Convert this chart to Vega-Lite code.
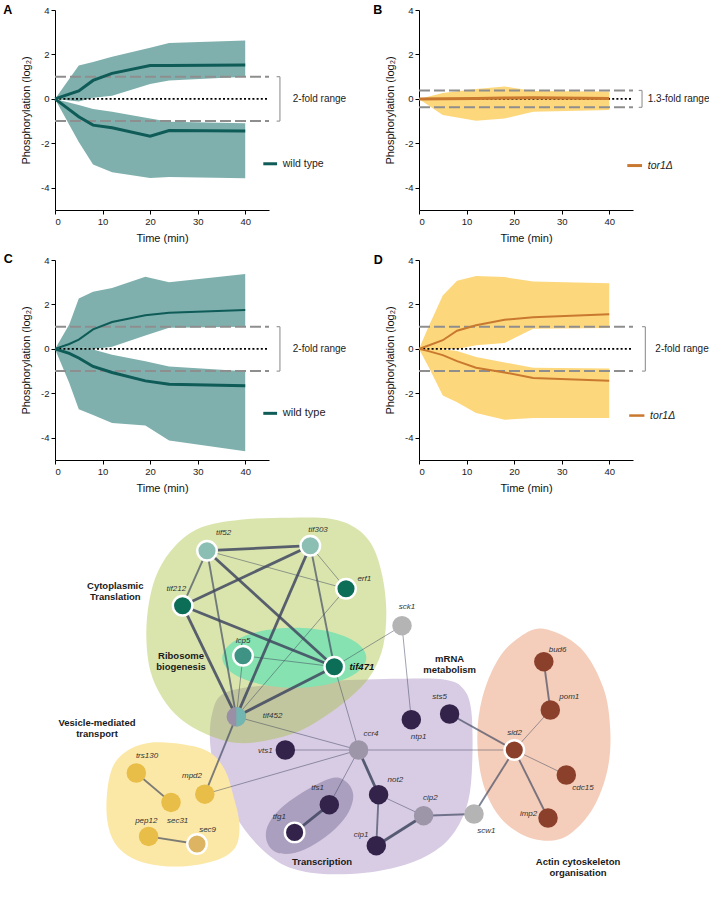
{
  "$schema": "https://vega.github.io/schema/vega-lite/v6.json",
  "autosize": {"type": "pad"},
  "padding": {"left": 3, "top": 3, "right": 0, "bottom": 0},
  "background": "white",
  "config": {
    "view": {"stroke": null},
    "font": "Liberation Sans",
    "axis": {"grid": false, "domainColor": "#000", "domainWidth": 1, "tickColor": "#000", "tickSize": 4, "labelFontSize": 9.5, "labelColor": "#222", "titleFontSize": 11, "titleFontWeight": "normal", "titleColor": "#111", "labelFont": "Liberation Sans", "titleFont": "Liberation Sans"}
  },
  "datasets": {
    "ts": [
      {"panel":"A","series":"up","t":0,"mean":0,"lo":0,"hi":0},
      {"panel":"A","series":"up","t":5,"mean":0.36,"lo":-0.12,"hi":1.5},
      {"panel":"A","series":"up","t":8,"mean":0.83,"lo":0.05,"hi":1.66},
      {"panel":"A","series":"up","t":12,"mean":1.15,"lo":0.14,"hi":1.9},
      {"panel":"A","series":"up","t":20,"mean":1.5,"lo":0.67,"hi":2.3},
      {"panel":"A","series":"up","t":24,"mean":1.5,"lo":0.83,"hi":2.51},
      {"panel":"A","series":"up","t":40,"mean":1.53,"lo":1.0,"hi":2.63},
      {"panel":"A","series":"down","t":0,"mean":0,"lo":0,"hi":0},
      {"panel":"A","series":"down","t":5,"mean":-0.8,"lo":-1.94,"hi":-0.27},
      {"panel":"A","series":"down","t":8,"mean":-1.18,"lo":-2.95,"hi":-0.45},
      {"panel":"A","series":"down","t":12,"mean":-1.3,"lo":-3.3,"hi":-0.58},
      {"panel":"A","series":"down","t":20,"mean":-1.68,"lo":-3.56,"hi":-0.88},
      {"panel":"A","series":"down","t":24,"mean":-1.42,"lo":-3.52,"hi":-1.03},
      {"panel":"A","series":"down","t":40,"mean":-1.44,"lo":-3.57,"hi":-1.1},
      {"panel":"B","series":"flat","t":0,"mean":0,"lo":0,"hi":0},
      {"panel":"B","series":"flat","t":5,"mean":0.01,"lo":-0.73,"hi":0.26},
      {"panel":"B","series":"flat","t":12,"mean":0.02,"lo":-0.98,"hi":0.45},
      {"panel":"B","series":"flat","t":18,"mean":0.04,"lo":-0.88,"hi":0.56},
      {"panel":"B","series":"flat","t":24,"mean":0.05,"lo":-0.58,"hi":0.36},
      {"panel":"B","series":"flat","t":40,"mean":0.02,"lo":-0.5,"hi":0.33},
      {"panel":"C","series":"up","t":0,"mean":0,"lo":0,"hi":0},
      {"panel":"C","series":"up","t":3,"mean":0.22,"lo":0.05,"hi":1.1},
      {"panel":"C","series":"up","t":5,"mean":0.42,"lo":0.1,"hi":2.27},
      {"panel":"C","series":"up","t":8,"mean":0.88,"lo":0.0,"hi":2.57},
      {"panel":"C","series":"up","t":12,"mean":1.21,"lo":0.1,"hi":2.74},
      {"panel":"C","series":"up","t":19,"mean":1.51,"lo":0.6,"hi":3.25},
      {"panel":"C","series":"up","t":24,"mean":1.63,"lo":0.95,"hi":3.0},
      {"panel":"C","series":"up","t":40,"mean":1.75,"lo":1.0,"hi":3.37},
      {"panel":"C","series":"down","t":0,"mean":0,"lo":0,"hi":0},
      {"panel":"C","series":"down","t":3,"mean":-0.2,"lo":-1.54,"hi":0.2},
      {"panel":"C","series":"down","t":5,"mean":-0.41,"lo":-2.72,"hi":0.12},
      {"panel":"C","series":"down","t":8,"mean":-0.79,"lo":-2.98,"hi":-0.03},
      {"panel":"C","series":"down","t":12,"mean":-1.06,"lo":-3.33,"hi":-0.26},
      {"panel":"C","series":"down","t":19,"mean":-1.44,"lo":-3.45,"hi":-0.56},
      {"panel":"C","series":"down","t":24,"mean":-1.59,"lo":-4.12,"hi":-0.79},
      {"panel":"C","series":"down","t":40,"mean":-1.66,"lo":-4.61,"hi":-1.01},
      {"panel":"D","series":"up","t":0,"mean":0,"lo":0,"hi":0},
      {"panel":"D","series":"up","t":2,"mean":0.15,"lo":-0.05,"hi":1.0},
      {"panel":"D","series":"up","t":5,"mean":0.39,"lo":0.0,"hi":2.4},
      {"panel":"D","series":"up","t":8,"mean":0.82,"lo":0.0,"hi":3.07},
      {"panel":"D","series":"up","t":12,"mean":1.06,"lo":0.16,"hi":3.28},
      {"panel":"D","series":"up","t":18,"mean":1.31,"lo":0.27,"hi":3.23},
      {"panel":"D","series":"up","t":24,"mean":1.42,"lo":0.91,"hi":3.03},
      {"panel":"D","series":"up","t":40,"mean":1.56,"lo":0.94,"hi":2.95},
      {"panel":"D","series":"down","t":0,"mean":0,"lo":0,"hi":0},
      {"panel":"D","series":"down","t":2,"mean":-0.1,"lo":-0.8,"hi":0.0},
      {"panel":"D","series":"down","t":5,"mean":-0.28,"lo":-2.1,"hi":-0.02},
      {"panel":"D","series":"down","t":8,"mean":-0.55,"lo":-2.4,"hi":-0.1},
      {"panel":"D","series":"down","t":12,"mean":-0.85,"lo":-2.89,"hi":-0.36},
      {"panel":"D","series":"down","t":18,"mean":-1.06,"lo":-3.19,"hi":-0.61},
      {"panel":"D","series":"down","t":24,"mean":-1.31,"lo":-3.11,"hi":-0.85},
      {"panel":"D","series":"down","t":40,"mean":-1.43,"lo":-3.11,"hi":-0.88}
    ],
    "nodes": [
      {"id":"tif52","x":206.7,"y":550,"grp":"tifL","ring":1,"lx":223.3,"ly":532.7},
      {"id":"tif303","x":310,"y":545,"grp":"tifL","ring":1,"lx":317.7,"ly":529.3},
      {"id":"erf1","x":345.7,"y":588,"grp":"tifD","ring":1,"lx":364,"ly":578.3},
      {"id":"tif212","x":182.3,"y":605,"grp":"tifD","ring":1,"lx":176,"ly":588.3},
      {"id":"lcp5","x":242.7,"y":655,"grp":"ribo","ring":1,"lx":242.7,"ly":640},
      {"id":"tif471","x":334,"y":666,"grp":"tifD","ring":1,"lx":361.5,"ly":666.7},
      {"id":"tif452","x":236,"y":716,"grp":"split","ring":0,"lx":272.3,"ly":715.7},
      {"id":"sck1","x":401.7,"y":625,"grp":"other","ring":0,"lx":406.7,"ly":606},
      {"id":"ccr4","x":358.3,"y":749.3,"grp":"mgrey","ring":0,"lx":370.7,"ly":733.3},
      {"id":"vts1","x":285,"y":749.3,"grp":"mrna","ring":0,"lx":265,"ly":750},
      {"id":"ntp1","x":411,"y":719,"grp":"mrna","ring":0,"lx":418.3,"ly":736.7},
      {"id":"sts5","x":449.3,"y":713.3,"grp":"mrna","ring":0,"lx":439.3,"ly":696.7},
      {"id":"not2","x":378.3,"y":794,"grp":"mrna","ring":0,"lx":395,"ly":779.3},
      {"id":"cip2","x":423.3,"y":815,"grp":"mgrey","ring":0,"lx":430,"ly":797.7},
      {"id":"cip1","x":376,"y":845,"grp":"mrna","ring":0,"lx":360.7,"ly":834},
      {"id":"scw1","x":473.7,"y":813.3,"grp":"other","ring":0,"lx":486,"ly":830.7},
      {"id":"tfs1","x":329,"y":804,"grp":"mrna","ring":0,"lx":317.3,"ly":787.7},
      {"id":"tfg1","x":294.3,"y":831.7,"grp":"mrna","ring":1,"lx":279,"ly":816.7},
      {"id":"trs130","x":136,"y":772.3,"grp":"ves","ring":0,"lx":146.7,"ly":755},
      {"id":"mpd2","x":204.5,"y":793.5,"grp":"ves","ring":0,"lx":191.7,"ly":775},
      {"id":"sec31","x":170.7,"y":801.7,"grp":"ves","ring":0,"lx":177.3,"ly":820},
      {"id":"pep12","x":148.3,"y":835.7,"grp":"ves","ring":0,"lx":146,"ly":820},
      {"id":"sec9","x":196.7,"y":843.3,"grp":"vesL","ring":1,"lx":207.3,"ly":829.3},
      {"id":"bud6","x":543.5,"y":661,"grp":"actin","ring":0,"lx":557.3,"ly":649.3},
      {"id":"pom1","x":550,"y":709.3,"grp":"actin","ring":0,"lx":569,"ly":696.7},
      {"id":"sid2","x":514,"y":749.3,"grp":"actin","ring":1,"lx":514.3,"ly":732.7},
      {"id":"cdc15","x":566,"y":774.3,"grp":"actin","ring":0,"lx":582.7,"ly":787.3},
      {"id":"imp2","x":547.7,"y":817.3,"grp":"actin","ring":0,"lx":528.3,"ly":813.3}
    ],
    "edges": [
      {"s":"tif52","t":"tif303","w":3},
      {"s":"tif52","t":"erf1","w":1},
      {"s":"tif52","t":"tif471","w":3},
      {"s":"tif52","t":"tif212","w":2},
      {"s":"tif52","t":"tif452","w":2},
      {"s":"tif303","t":"tif212","w":3},
      {"s":"tif303","t":"erf1","w":1},
      {"s":"tif303","t":"tif471","w":2},
      {"s":"tif303","t":"tif452","w":3},
      {"s":"tif212","t":"tif471","w":3},
      {"s":"tif212","t":"tif452","w":3},
      {"s":"erf1","t":"tif452","w":1},
      {"s":"lcp5","t":"tif471","w":1},
      {"s":"lcp5","t":"tif452","w":1},
      {"s":"tif471","t":"tif452","w":3},
      {"s":"tif471","t":"sck1","w":1},
      {"s":"tif471","t":"ccr4","w":1},
      {"s":"sck1","t":"ntp1","w":1},
      {"s":"tif452","t":"ccr4","w":1},
      {"s":"tif452","t":"mpd2","w":2},
      {"s":"mpd2","t":"ccr4","w":1},
      {"s":"vts1","t":"ccr4","w":1},
      {"s":"ccr4","t":"sid2","w":1},
      {"s":"ccr4","t":"not2","w":3},
      {"s":"ccr4","t":"tfs1","w":1},
      {"s":"tfs1","t":"tfg1","w":3},
      {"s":"not2","t":"cip2","w":1},
      {"s":"not2","t":"cip1","w":2},
      {"s":"cip1","t":"cip2","w":3},
      {"s":"cip2","t":"scw1","w":2},
      {"s":"scw1","t":"sid2","w":2},
      {"s":"sts5","t":"sid2","w":2},
      {"s":"sid2","t":"pom1","w":1},
      {"s":"sid2","t":"cdc15","w":1},
      {"s":"sid2","t":"imp2","w":2},
      {"s":"pom1","t":"bud6","w":2},
      {"s":"trs130","t":"sec31","w":2},
      {"s":"pep12","t":"sec9","w":2}
    ],
    "blobs": [
      {"b":"mrna","i":0,"x":225,"y":692},{"b":"mrna","i":1,"x":270,"y":684},{"b":"mrna","i":2,"x":330,"y":680},{"b":"mrna","i":3,"x":400,"y":678},{"b":"mrna","i":4,"x":445,"y":679},{"b":"mrna","i":5,"x":463,"y":688},{"b":"mrna","i":6,"x":471,"y":710},{"b":"mrna","i":7,"x":472,"y":760},{"b":"mrna","i":8,"x":468,"y":800},{"b":"mrna","i":9,"x":455,"y":830},{"b":"mrna","i":10,"x":435,"y":850},{"b":"mrna","i":11,"x":405,"y":864},{"b":"mrna","i":12,"x":365,"y":872},{"b":"mrna","i":13,"x":320,"y":873},{"b":"mrna","i":14,"x":285,"y":865},{"b":"mrna","i":15,"x":258,"y":845},{"b":"mrna","i":16,"x":235,"y":815},{"b":"mrna","i":17,"x":218,"y":780},{"b":"mrna","i":18,"x":210,"y":745},{"b":"mrna","i":19,"x":212,"y":712},
      {"b":"trans","i":0,"x":290,"y":517},{"b":"trans","i":1,"x":330,"y":518},{"b":"trans","i":2,"x":355,"y":527},{"b":"trans","i":3,"x":372,"y":545},{"b":"trans","i":4,"x":382,"y":575},{"b":"trans","i":5,"x":386,"y":610},{"b":"trans","i":6,"x":383,"y":645},{"b":"trans","i":7,"x":372,"y":672},{"b":"trans","i":8,"x":355,"y":692},{"b":"trans","i":9,"x":330,"y":712},{"b":"trans","i":10,"x":300,"y":730},{"b":"trans","i":11,"x":265,"y":740},{"b":"trans","i":12,"x":235,"y":742},{"b":"trans","i":13,"x":205,"y":733},{"b":"trans","i":14,"x":180,"y":718},{"b":"trans","i":15,"x":162,"y":697},{"b":"trans","i":16,"x":150,"y":670},{"b":"trans","i":17,"x":146,"y":635},{"b":"trans","i":18,"x":149,"y":600},{"b":"trans","i":19,"x":158,"y":570},{"b":"trans","i":20,"x":175,"y":545},{"b":"trans","i":21,"x":200,"y":527},{"b":"trans","i":22,"x":240,"y":519},
      {"b":"ribo","i":0,"x":366,"y":657},{"b":"ribo","i":1,"x":356.4,"y":672},{"b":"ribo","i":2,"x":330,"y":683},{"b":"ribo","i":3,"x":294,"y":687},{"b":"ribo","i":4,"x":258,"y":683},{"b":"ribo","i":5,"x":231.6,"y":672},{"b":"ribo","i":6,"x":222,"y":657},{"b":"ribo","i":7,"x":231.6,"y":642},{"b":"ribo","i":8,"x":258,"y":631},{"b":"ribo","i":9,"x":294,"y":627},{"b":"ribo","i":10,"x":330,"y":631},{"b":"ribo","i":11,"x":356.4,"y":642},
      {"b":"tx","i":0,"x":333,"y":777},{"b":"tx","i":1,"x":347,"y":782},{"b":"tx","i":2,"x":353,"y":795},{"b":"tx","i":3,"x":348,"y":812},{"b":"tx","i":4,"x":335,"y":828},{"b":"tx","i":5,"x":315,"y":843},{"b":"tx","i":6,"x":295,"y":852},{"b":"tx","i":7,"x":277,"y":852},{"b":"tx","i":8,"x":267,"y":842},{"b":"tx","i":9,"x":267,"y":826},{"b":"tx","i":10,"x":280,"y":808},{"b":"tx","i":11,"x":305,"y":790},
      {"b":"ves","i":0,"x":150,"y":742},{"b":"ves","i":1,"x":185,"y":744},{"b":"ves","i":2,"x":210,"y":752},{"b":"ves","i":3,"x":225,"y":770},{"b":"ves","i":4,"x":233,"y":795},{"b":"ves","i":5,"x":239,"y":822},{"b":"ves","i":6,"x":236,"y":845},{"b":"ves","i":7,"x":220,"y":858},{"b":"ves","i":8,"x":190,"y":865},{"b":"ves","i":9,"x":160,"y":865},{"b":"ves","i":10,"x":133,"y":858},{"b":"ves","i":11,"x":115,"y":843},{"b":"ves","i":12,"x":107,"y":820},{"b":"ves","i":13,"x":107,"y":790},{"b":"ves","i":14,"x":113,"y":765},{"b":"ves","i":15,"x":127,"y":750},
      {"b":"actin","i":0,"x":543,"y":628},{"b":"actin","i":1,"x":580,"y":647},{"b":"actin","i":2,"x":603,"y":687},{"b":"actin","i":3,"x":610,"y":730},{"b":"actin","i":4,"x":607,"y":770},{"b":"actin","i":5,"x":593,"y":807},{"b":"actin","i":6,"x":570,"y":833},{"b":"actin","i":7,"x":547,"y":840},{"b":"actin","i":8,"x":520,"y":833},{"b":"actin","i":9,"x":497,"y":813},{"b":"actin","i":10,"x":482,"y":780},{"b":"actin","i":11,"x":477,"y":737},{"b":"actin","i":12,"x":482,"y":697},{"b":"actin","i":13,"x":497,"y":660},{"b":"actin","i":14,"x":517,"y":638}
    ],
    "glabels": [
      {"label":"Cytoplasmic\nTranslation","x":115,"y":585.3},
      {"label":"Ribosome\nbiogenesis","x":180.7,"y":655.7},
      {"label":"mRNA\nmetabolism","x":449.3,"y":658.7},
      {"label":"Vesicle-mediated\ntransport","x":96.7,"y":722},
      {"label":"Transcription","x":321.7,"y":861},
      {"label":"Actin cytoskeleton\norganisation","x":577.7,"y":861.3}
    ]
  },
  "concat": [
    {
      "width": 214, "height": 200,
      "layer": [
        {"data": {"name": "ts"}, "transform": [{"filter": "datum.panel === 'A'"}],
         "mark": {"type": "area", "color": "#7FB0AD", "opacity": 1},
         "encoding": {
           "x": {"field": "t", "type": "quantitative", "scale": {"domain": [0, 45], "nice": false}, "axis": {"values": [0,10,20,30,40], "title": "Time (min)", "titlePadding": 7, "labelPadding": 2}},
           "y": {"field": "lo", "type": "quantitative", "scale": {"domain": [-5, 4], "nice": false}, "axis": {"values": [-4,-2,0,2,4], "title": "Phosphorylation (log₂)", "titlePadding": 9, "labelPadding": 2, "labelExpr": "'' + datum.value"}},
           "y2": {"field": "hi"}, "detail": {"field": "series"}}},
        {"data": {"values": [{"f": 1}, {"f": -1}]}, "mark": {"type": "rule", "color": "#8E8E8E", "strokeWidth": 2, "strokeDash": [11, 4]},
         "encoding": {"x": {"datum": 0}, "x2": {"datum": 45}, "y": {"field": "f", "type": "quantitative"}}},
        {"data": {"values": [{"f": 0}]}, "mark": {"type": "rule", "color": "#000", "strokeWidth": 1.6, "strokeDash": [2, 2.2]},
         "encoding": {"x": {"datum": 0}, "x2": {"datum": 45}, "y": {"field": "f", "type": "quantitative"}}},
        {"data": {"name": "ts"}, "transform": [{"filter": "datum.panel === 'A'"}],
         "mark": {"type": "line", "color": "#0E5B57", "strokeWidth": 3},
         "encoding": {"x": {"field": "t", "type": "quantitative"}, "y": {"field": "mean", "type": "quantitative"}, "detail": {"field": "series"}}},
        {"data": {"values": [{"a": 1, "b": -1}]}, "mark": {"type": "rule", "color": "#9A9A9A", "strokeWidth": 1.2},
         "encoding": {"x": {"datum": 47.3}, "y": {"field": "a", "type": "quantitative"}, "y2": {"field": "b"}}},
        {"data": {"values": [{"f": 1}, {"f": -1}]}, "mark": {"type": "rule", "color": "#9A9A9A", "strokeWidth": 1.2},
         "encoding": {"x": {"datum": 46.6}, "x2": {"datum": 47.3}, "y": {"field": "f", "type": "quantitative"}}},
        {"data": {"values": [{"label": "2-fold range"}]}, "mark": {"type": "text", "align": "left", "baseline": "middle", "fontSize": 10, "color": "#222"},
         "encoding": {"x": {"datum": 50}, "y": {"datum": 0}, "text": {"field": "label"}}},
        {"data": {"values": [{}]}, "mark": {"type": "rule", "color": "#0E5B57", "strokeWidth": 3},
         "encoding": {"x": {"datum": 43.8}, "x2": {"datum": 46.7}, "y": {"datum": -2.92}}},
        {"data": {"values": [{"label": "wild type"}]}, "mark": {"type": "text", "align": "left", "baseline": "middle", "fontSize": 10.5, "color": "#222"},
         "encoding": {"x": {"datum": 47.9}, "y": {"datum": -2.92}, "text": {"field": "label"}}},
        {"data": {"values": [{"label": "A"}]}, "mark": {"type": "text", "align": "left", "baseline": "middle", "fontSize": 12.5, "fontWeight": "bold", "color": "#000"},
         "encoding": {"x": {"datum": -10.9}, "y": {"datum": 4.02}, "text": {"field": "label"}}}
      ]
    },
    {
      "width": 214, "height": 200,
      "layer": [
        {"data": {"name": "ts"}, "transform": [{"filter": "datum.panel === 'B'"}],
         "mark": {"type": "area", "color": "#FDD77C", "opacity": 1},
         "encoding": {
           "x": {"field": "t", "type": "quantitative", "scale": {"domain": [0, 45], "nice": false}, "axis": {"values": [0,10,20,30,40], "title": "Time (min)", "titlePadding": 7, "labelPadding": 2}},
           "y": {"field": "lo", "type": "quantitative", "scale": {"domain": [-5, 4], "nice": false}, "axis": {"values": [-4,-2,0,2,4], "title": "Phosphorylation (log₂)", "titlePadding": 9, "labelPadding": 2, "labelExpr": "'' + datum.value"}},
           "y2": {"field": "hi"}, "detail": {"field": "series"}}},
        {"data": {"values": [{"f": 0.38}, {"f": -0.38}]}, "mark": {"type": "rule", "color": "#8E8E8E", "strokeWidth": 2, "strokeDash": [11, 4]},
         "encoding": {"x": {"datum": 0}, "x2": {"datum": 45}, "y": {"field": "f", "type": "quantitative"}}},
        {"data": {"values": [{"f": 0}]}, "mark": {"type": "rule", "color": "#000", "strokeWidth": 1.6, "strokeDash": [2, 2.2]},
         "encoding": {"x": {"datum": 0}, "x2": {"datum": 45}, "y": {"field": "f", "type": "quantitative"}}},
        {"data": {"name": "ts"}, "transform": [{"filter": "datum.panel === 'B'"}],
         "mark": {"type": "line", "color": "#C9792F", "strokeWidth": 3},
         "encoding": {"x": {"field": "t", "type": "quantitative"}, "y": {"field": "mean", "type": "quantitative"}, "detail": {"field": "series"}}},
        {"data": {"values": [{"a": 0.38, "b": -0.38}]}, "mark": {"type": "rule", "color": "#9A9A9A", "strokeWidth": 1.2},
         "encoding": {"x": {"datum": 46.9}, "y": {"field": "a", "type": "quantitative"}, "y2": {"field": "b"}}},
        {"data": {"values": [{"f": 0.38}, {"f": -0.38}]}, "mark": {"type": "rule", "color": "#9A9A9A", "strokeWidth": 1.2},
         "encoding": {"x": {"datum": 46.2}, "x2": {"datum": 46.9}, "y": {"field": "f", "type": "quantitative"}}},
        {"data": {"values": [{"label": "1.3-fold range"}]}, "mark": {"type": "text", "align": "left", "baseline": "middle", "fontSize": 10, "color": "#222"},
         "encoding": {"x": {"datum": 48.1}, "y": {"datum": 0}, "text": {"field": "label"}}},
        {"data": {"values": [{}]}, "mark": {"type": "rule", "color": "#C9792F", "strokeWidth": 3},
         "encoding": {"x": {"datum": 43.8}, "x2": {"datum": 46.9}, "y": {"datum": -3.0}}},
        {"data": {"values": [{"label": "tor1Δ"}]}, "mark": {"type": "text", "align": "left", "baseline": "middle", "fontSize": 10.5, "fontStyle": "italic", "color": "#222"},
         "encoding": {"x": {"datum": 48.1}, "y": {"datum": -3.0}, "text": {"field": "label"}}},
        {"data": {"values": [{"label": "B"}]}, "mark": {"type": "text", "align": "left", "baseline": "middle", "fontSize": 12.5, "fontWeight": "bold", "color": "#000"},
         "encoding": {"x": {"datum": -9.6}, "y": {"datum": 4.02}, "text": {"field": "label"}}}
      ]
    },
    {
      "width": 214, "height": 200,
      "layer": [
        {"data": {"name": "ts"}, "transform": [{"filter": "datum.panel === 'C'"}],
         "mark": {"type": "area", "color": "#7FB0AD", "opacity": 1},
         "encoding": {
           "x": {"field": "t", "type": "quantitative", "scale": {"domain": [0, 45], "nice": false}, "axis": {"values": [0,10,20,30,40], "title": "Time (min)", "titlePadding": 7, "labelPadding": 2}},
           "y": {"field": "lo", "type": "quantitative", "scale": {"domain": [-5, 4], "nice": false}, "axis": {"values": [-4,-2,0,2,4], "title": "Phosphorylation (log₂)", "titlePadding": 9, "labelPadding": 2, "labelExpr": "'' + datum.value"}},
           "y2": {"field": "hi"}, "detail": {"field": "series"}}},
        {"data": {"values": [{"f": 1}, {"f": -1}]}, "mark": {"type": "rule", "color": "#8E8E8E", "strokeWidth": 2, "strokeDash": [11, 4]},
         "encoding": {"x": {"datum": 0}, "x2": {"datum": 45}, "y": {"field": "f", "type": "quantitative"}}},
        {"data": {"values": [{"f": 0}]}, "mark": {"type": "rule", "color": "#000", "strokeWidth": 1.6, "strokeDash": [2, 2.2]},
         "encoding": {"x": {"datum": 0}, "x2": {"datum": 45}, "y": {"field": "f", "type": "quantitative"}}},
        {"data": {"name": "ts"}, "transform": [{"filter": "datum.panel === 'C'"}],
         "mark": {"type": "line", "color": "#0E5B57"},
         "encoding": {"x": {"field": "t", "type": "quantitative"}, "y": {"field": "mean", "type": "quantitative"}, "detail": {"field": "series"},
           "strokeWidth": {"condition": {"test": "datum.series === 'down'", "value": 3}, "value": 2}}},
        {"data": {"values": [{"a": 1, "b": -1}]}, "mark": {"type": "rule", "color": "#9A9A9A", "strokeWidth": 1.2},
         "encoding": {"x": {"datum": 47.3}, "y": {"field": "a", "type": "quantitative"}, "y2": {"field": "b"}}},
        {"data": {"values": [{"f": 1}, {"f": -1}]}, "mark": {"type": "rule", "color": "#9A9A9A", "strokeWidth": 1.2},
         "encoding": {"x": {"datum": 46.6}, "x2": {"datum": 47.3}, "y": {"field": "f", "type": "quantitative"}}},
        {"data": {"values": [{"label": "2-fold range"}]}, "mark": {"type": "text", "align": "left", "baseline": "middle", "fontSize": 10, "color": "#222"},
         "encoding": {"x": {"datum": 50}, "y": {"datum": 0}, "text": {"field": "label"}}},
        {"data": {"values": [{}]}, "mark": {"type": "rule", "color": "#0E5B57", "strokeWidth": 3},
         "encoding": {"x": {"datum": 43.8}, "x2": {"datum": 46.7}, "y": {"datum": -2.9}}},
        {"data": {"values": [{"label": "wild type"}]}, "mark": {"type": "text", "align": "left", "baseline": "middle", "fontSize": 11, "color": "#222"},
         "encoding": {"x": {"datum": 47.9}, "y": {"datum": -2.9}, "text": {"field": "label"}}},
        {"data": {"values": [{"label": "C"}]}, "mark": {"type": "text", "align": "left", "baseline": "middle", "fontSize": 12.5, "fontWeight": "bold", "color": "#000"},
         "encoding": {"x": {"datum": -10.8}, "y": {"datum": 4.05}, "text": {"field": "label"}}}
      ]
    },
    {
      "width": 214, "height": 200,
      "layer": [
        {"data": {"name": "ts"}, "transform": [{"filter": "datum.panel === 'D'"}],
         "mark": {"type": "area", "color": "#FDD77C", "opacity": 1},
         "encoding": {
           "x": {"field": "t", "type": "quantitative", "scale": {"domain": [0, 45], "nice": false}, "axis": {"values": [0,10,20,30,40], "title": "Time (min)", "titlePadding": 7, "labelPadding": 2}},
           "y": {"field": "lo", "type": "quantitative", "scale": {"domain": [-5, 4], "nice": false}, "axis": {"values": [-4,-2,0,2,4], "title": "Phosphorylation (log₂)", "titlePadding": 9, "labelPadding": 2, "labelExpr": "'' + datum.value"}},
           "y2": {"field": "hi"}, "detail": {"field": "series"}}},
        {"data": {"values": [{"f": 1}, {"f": -1}]}, "mark": {"type": "rule", "color": "#8E8E8E", "strokeWidth": 2, "strokeDash": [11, 4]},
         "encoding": {"x": {"datum": 0}, "x2": {"datum": 45}, "y": {"field": "f", "type": "quantitative"}}},
        {"data": {"values": [{"f": 0}]}, "mark": {"type": "rule", "color": "#000", "strokeWidth": 1.6, "strokeDash": [2, 2.2]},
         "encoding": {"x": {"datum": 0}, "x2": {"datum": 45}, "y": {"field": "f", "type": "quantitative"}}},
        {"data": {"name": "ts"}, "transform": [{"filter": "datum.panel === 'D'"}],
         "mark": {"type": "line", "color": "#C9792F", "strokeWidth": 2},
         "encoding": {"x": {"field": "t", "type": "quantitative"}, "y": {"field": "mean", "type": "quantitative"}, "detail": {"field": "series"}}},
        {"data": {"values": [{"a": 1, "b": -1}]}, "mark": {"type": "rule", "color": "#9A9A9A", "strokeWidth": 1.2},
         "encoding": {"x": {"datum": 47.6}, "y": {"field": "a", "type": "quantitative"}, "y2": {"field": "b"}}},
        {"data": {"values": [{"f": 1}, {"f": -1}]}, "mark": {"type": "rule", "color": "#9A9A9A", "strokeWidth": 1.2},
         "encoding": {"x": {"datum": 46.9}, "x2": {"datum": 47.6}, "y": {"field": "f", "type": "quantitative"}}},
        {"data": {"values": [{"label": "2-fold range"}]}, "mark": {"type": "text", "align": "left", "baseline": "middle", "fontSize": 10, "color": "#222"},
         "encoding": {"x": {"datum": 49.7}, "y": {"datum": 0}, "text": {"field": "label"}}},
        {"data": {"values": [{}]}, "mark": {"type": "rule", "color": "#C9792F", "strokeWidth": 2.5},
         "encoding": {"x": {"datum": 44.2}, "x2": {"datum": 47.4}, "y": {"datum": -3.0}}},
        {"data": {"values": [{"label": "tor1Δ"}]}, "mark": {"type": "text", "align": "left", "baseline": "middle", "fontSize": 10.5, "fontStyle": "italic", "color": "#222"},
         "encoding": {"x": {"datum": 48.6}, "y": {"datum": -3.0}, "text": {"field": "label"}}},
        {"data": {"values": [{"label": "D"}]}, "mark": {"type": "text", "align": "left", "baseline": "middle", "fontSize": 12.5, "fontWeight": "bold", "color": "#000"},
         "encoding": {"x": {"datum": -9.5}, "y": {"datum": 4.0}, "text": {"field": "label"}}}
      ]
    },
    {
      "width": 214, "height": 380,
      "encoding": {
        "x": {"field": "x", "type": "quantitative", "scale": {"domain": [54.7, 268.7], "nice": false, "zero": false}, "axis": null},
        "y": {"field": "y", "type": "quantitative", "scale": {"domain": [509.3, 889.3], "nice": false, "zero": false, "reverse": true}, "axis": null}
      },
      "layer": [
        {"data": {"name": "blobs"}, "transform": [{"filter": "datum.b === 'mrna'"}],
         "mark": {"type": "line", "filled": true, "color": "#D8CCE4", "interpolate": "cardinal-closed", "strokeWidth": 0},
         "encoding": {"order": {"field": "i", "type": "quantitative"}}},
        {"data": {"name": "blobs"}, "transform": [{"filter": "datum.b === 'trans'"}],
         "mark": {"type": "line", "filled": true, "color": "#A3BF35", "fillOpacity": 0.4, "opacity": 1, "interpolate": "cardinal-closed", "strokeWidth": 0},
         "encoding": {"order": {"field": "i", "type": "quantitative"}}},
        {"data": {"name": "blobs"}, "transform": [{"filter": "datum.b === 'ribo'"}],
         "mark": {"type": "line", "filled": true, "color": "#86E2B0", "interpolate": "cardinal-closed", "strokeWidth": 0},
         "encoding": {"order": {"field": "i", "type": "quantitative"}}},
        {"data": {"name": "blobs"}, "transform": [{"filter": "datum.b === 'tx'"}],
         "mark": {"type": "line", "filled": true, "color": "#AB9FC0", "interpolate": "cardinal-closed", "strokeWidth": 0},
         "encoding": {"order": {"field": "i", "type": "quantitative"}}},
        {"data": {"name": "blobs"}, "transform": [{"filter": "datum.b === 'ves'"}],
         "mark": {"type": "line", "filled": true, "color": "#FCE8A6", "interpolate": "cardinal-closed", "strokeWidth": 0},
         "encoding": {"order": {"field": "i", "type": "quantitative"}}},
        {"data": {"name": "blobs"}, "transform": [{"filter": "datum.b === 'actin'"}],
         "mark": {"type": "line", "filled": true, "color": "#F4CEBB", "interpolate": "cardinal-closed", "strokeWidth": 0},
         "encoding": {"order": {"field": "i", "type": "quantitative"}}},
        {"data": {"name": "edges"},
         "transform": [
           {"lookup": "s", "from": {"data": {"name": "nodes"}, "key": "id", "fields": ["x", "y"]}, "as": ["x", "y"]},
           {"lookup": "t", "from": {"data": {"name": "nodes"}, "key": "id", "fields": ["x", "y"]}, "as": ["x2", "y2"]}
         ],
         "mark": {"type": "rule", "color": "#3F4760"},
         "encoding": {
           "x2": {"field": "x2"}, "y2": {"field": "y2"},
           "strokeWidth": {"field": "w", "type": "quantitative", "scale": {"domain": [1, 3], "range": [1, 2.8]}, "legend": null},
           "opacity": {"field": "w", "type": "quantitative", "scale": {"domain": [1, 3], "range": [0.5, 0.85]}, "legend": null}
         }},
        {"data": {"name": "nodes"},
         "mark": {"type": "point", "filled": true, "shape": "circle", "size": 380, "stroke": "white", "opacity": 1},
         "encoding": {
           "color": {"field": "grp", "type": "nominal", "legend": null,
             "scale": {"domain": ["tifL", "tifD", "ribo", "other", "mgrey", "mrna", "ves", "vesL", "actin", "split"],
                       "range": ["#8CBFB4", "#0D6E58", "#3F9385", "#B4B4B4", "#9D95A8", "#33224A", "#E8BD48", "#DDB462", "#8B402B", "#9A90A6"]}},
           "strokeWidth": {"condition": {"test": "datum.ring === 1", "value": 2.4}, "value": 0}
         }},
        {"data": {"name": "nodes"}, "transform": [{"filter": "datum.id === 'tif452'"}],
         "mark": {"type": "point", "filled": true, "shape": "M0,-1A1,1,0,0,1,0,1Z", "size": 380, "color": "#72B6B1", "strokeWidth": 0, "opacity": 1}},
        {"data": {"name": "nodes"}, "transform": [{"filter": "datum.id !== 'tif471'"}],
         "mark": {"type": "text", "align": "center", "baseline": "middle", "fontStyle": "italic", "fontSize": 8, "color": "#333"},
         "encoding": {
           "x": {"field": "lx", "type": "quantitative", "axis": null},
           "y": {"field": "ly", "type": "quantitative", "axis": null},
           "text": {"field": "id"}
         }},
        {"data": {"name": "nodes"}, "transform": [{"filter": "datum.id === 'tif471'"}],
         "mark": {"type": "text", "align": "center", "baseline": "middle", "fontStyle": "italic", "fontWeight": "bold", "fontSize": 9.5, "color": "#111"},
         "encoding": {
           "x": {"field": "lx", "type": "quantitative", "axis": null},
           "y": {"field": "ly", "type": "quantitative", "axis": null},
           "text": {"field": "id"}
         }},
        {"data": {"name": "glabels"},
         "mark": {"type": "text", "align": "center", "baseline": "middle", "fontWeight": "bold", "fontSize": 9.5, "lineBreak": "\n", "lineHeight": 11, "color": "#1A1A1A"},
         "encoding": {"text": {"field": "label"}}},
        {"data": {"values": [{"label": "E"}]},
         "mark": {"type": "text", "align": "left", "baseline": "middle", "fontSize": 12.5, "fontWeight": "bold", "color": "#000"},
         "encoding": {"x": {"datum": 3, "type": "quantitative", "axis": null}, "y": {"datum": 523, "type": "quantitative", "axis": null}, "text": {"field": "label"}}}
      ]
    }
  ],
  "columns": 2,
  "align": "none",
  "bounds": "flush",
  "spacing": {"row": 50, "column": 150}
}
